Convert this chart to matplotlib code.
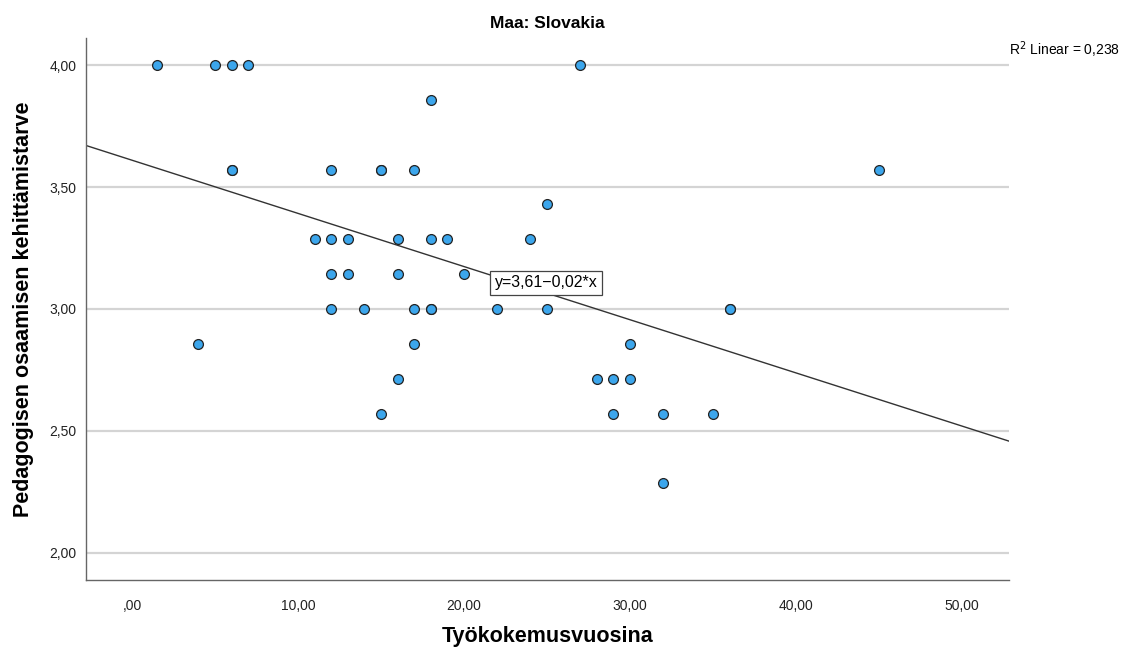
import numpy as np
import matplotlib.pyplot as plt

plt.rcParams['font.family'] = ['Liberation Sans', 'DejaVu Sans']

# work experience (years) and development need score
years = [1.5, 5, 6, 7, 27,
         18,
         6, 6, 12, 15, 15, 17, 45,
         25,
         11, 12, 13, 16, 18, 19, 24,
         12, 13, 16, 20,
         12, 14, 17, 18, 18, 22, 25, 36, 36,
         4, 17, 30,
         16, 28, 29, 30,
         15, 29, 32, 35,
         32]
need = [4.0, 4.0, 4.0, 4.0, 4.0,
        3.857,
        3.571, 3.571, 3.571, 3.571, 3.571, 3.571, 3.571,
        3.429,
        3.286, 3.286, 3.286, 3.286, 3.286, 3.286, 3.286,
        3.143, 3.143, 3.143, 3.143,
        3.0, 3.0, 3.0, 3.0, 3.0, 3.0, 3.0, 3.0, 3.0,
        2.857, 2.857, 2.857,
        2.714, 2.714, 2.714, 2.714,
        2.571, 2.571, 2.571, 2.571,
        2.286]

fit_intercept = 3.61
fit_slope = -0.0218
x_ticks = [0, 10, 20, 30, 40, 50]
x_labels = [',00', '10,00', '20,00', '30,00', '40,00', '50,00']
y_ticks = [2.0, 2.5, 3.0, 3.5, 4.0]
y_labels = ['2,00', '2,50', '3,00', '3,50', '4,00']

fig = plt.figure(figsize=(11.27, 6.48), dpi=100)
ax = fig.add_axes([86 / 1127, 1 - 580 / 648, (1009 - 86) / 1127, (580 - 38) / 648])

xmin, xmax = -2.77, 52.83
ax.set_xlim(xmin, xmax)
ax.set_ylim(1.889, 4.111)

for yv in y_ticks:
    ax.axhline(yv, color='#d4d4d4', lw=1.6, zorder=0)

xs = np.array([xmin, xmax])
ax.plot(xs, fit_intercept + fit_slope * xs, color='#333333', lw=1.0, zorder=2)

ax.scatter(years, need, s=50, color='#3ca6ec', edgecolor='#222222', linewidth=0.9, zorder=3)

ax.text(21.85, 3.107, 'y=3,61\u22120,02*x', fontsize=11.5, va='center', ha='left',
        bbox=dict(boxstyle='square,pad=0.3', fc='white', ec='#444444', lw=0.9), zorder=4)

ax.set_xticks(x_ticks)
ax.set_xticklabels(x_labels)
ax.set_yticks(y_ticks)
ax.set_yticklabels(y_labels)
ax.tick_params(length=0, labelsize=10, colors='#222222', pad=14)
ax.tick_params(axis='y', pad=7)

for s in ['top', 'right']:
    ax.spines[s].set_visible(False)
for s in ['left', 'bottom']:
    ax.spines[s].set_color('#666666')
    ax.spines[s].set_linewidth(1.0)

ax.set_title('Maa: Slovakia', fontsize=12.5, fontweight='bold', pad=7)
ax.set_xlabel('Työkokemusvuosina', fontsize=15.5, fontweight='bold', labelpad=9)
ax.set_ylabel('Pedagogisen osaamisen kehittämistarve', fontsize=15.5, fontweight='bold', labelpad=11)

fig.text(1009 / 1127, 1 - 50 / 648, 'R$^2$ Linear = 0,238', fontsize=10, ha='left', va='center')

fig.savefig('out.png', dpi=100)
